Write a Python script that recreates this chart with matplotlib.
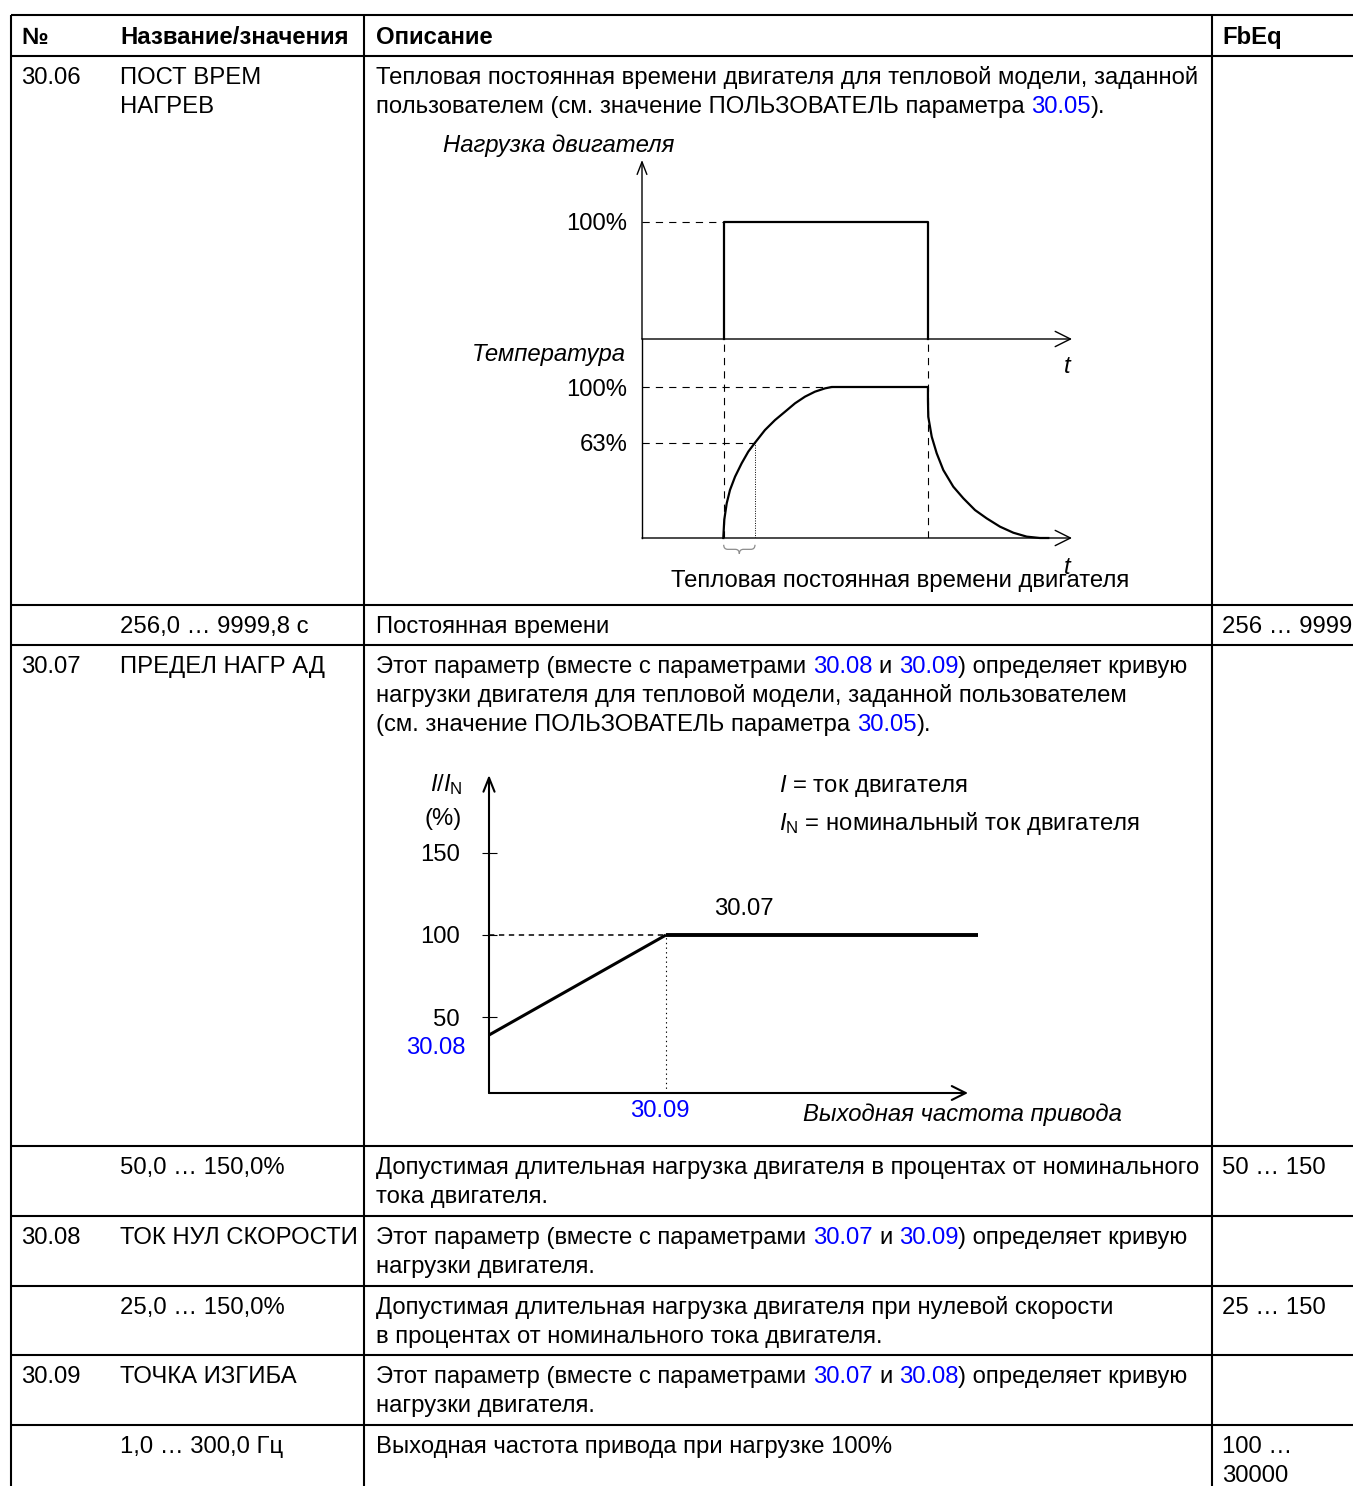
import re
import matplotlib
matplotlib.use("Agg")
import matplotlib.pyplot as plt
from matplotlib.path import Path
from matplotlib.patches import PathPatch

plt.rcParams['font.family'] = ['Liberation Sans', 'DejaVu Sans']
plt.rcParams['mathtext.fontset'] = 'custom'
plt.rcParams['mathtext.rm'] = 'Liberation Sans'
plt.rcParams['mathtext.it'] = 'Liberation Sans:italic'

W, H = 1353, 1486
FS = 17.2
BLUE = '#0000ff'

# ---- table content ----
headers = ["№", "Название/значения", "Описание", "FbEq"]
codes = ["30.06", "", "30.07", "", "30.08", "", "30.09", ""]
names = [["ПОСТ ВРЕМ", "НАГРЕВ"], ["256,0 … 9999,8 с"], ["ПРЕДЕЛ НАГР АД"],
         ["50,0 … 150,0%"], ["ТОК НУЛ СКОРОСТИ"], ["25,0 … 150,0%"],
         ["ТОЧКА ИЗГИБА"], ["1,0 … 300,0 Гц"]]
descriptions = [
    ["Тепловая постоянная времени двигателя для тепловой модели, заданной",
     "пользователем (см. значение ПОЛЬЗОВАТЕЛЬ параметра {30.05})."],
    ["Постоянная времени"],
    ["Этот параметр (вместе с параметрами {30.08} и {30.09}) определяет кривую",
     "нагрузки двигателя для тепловой модели, заданной пользователем",
     "(см. значение ПОЛЬЗОВАТЕЛЬ параметра {30.05})."],
    ["Допустимая длительная нагрузка двигателя в процентах от номинального",
     "тока двигателя."],
    ["Этот параметр (вместе с параметрами {30.07} и {30.09}) определяет кривую",
     "нагрузки двигателя."],
    ["Допустимая длительная нагрузка двигателя при нулевой скорости",
     "в процентах от номинального тока двигателя."],
    ["Этот параметр (вместе с параметрами {30.07} и {30.08}) определяет кривую",
     "нагрузки двигателя."],
    ["Выходная частота привода при нагрузке 100%"],
]
fbeq = [[], ["256 … 9999"], [], ["50 … 150"], [], ["25 … 150"], [], ["100 …", "30000"]]

# ---- diagram 1: load step and motor temperature (time in arbitrary units) ----
load_t = [1.0, 1.0, 3.5, 3.5]
load_pct = [0, 100, 100, 0]
temp_t = [0.995, 1.007, 1.037, 1.077, 1.139, 1.220, 1.301, 1.383, 1.505, 1.628, 1.750,
          1.873, 1.995, 2.117, 2.240, 2.322, 3.500,
          3.500, 3.504, 3.546, 3.607, 3.688, 3.810, 3.933, 4.076, 4.219, 4.382, 4.545,
          4.709, 4.871, 4.973]
temp_pct = [0, 12.1, 23.0, 31.8, 40.6, 49.5, 57.2, 63.1, 71.5, 78.1, 83.6,
            89.2, 93.6, 96.9, 99.1, 100, 100,
            91.4, 80.3, 67.1, 56.1, 45.0, 34.0, 26.3, 18.5, 13.0, 7.5, 3.5,
            0.9, 0, 0]
tau_t = 1.383         # time where temperature reaches 63 %
temp_full_t = 2.322   # time where temperature reaches 100 %

# ---- diagram 2: load curve ----
curve_f = [0, 1.0, 2.76]        # output frequency (knee = 30.09)
curve_i = [39, 100, 100]        # I/IN %  (30.08 at zero speed, 30.07 limit)
current_ticks = [50, 100, 150]

fig = plt.figure(figsize=(W / 100, H / 100), dpi=100)
ax = fig.add_axes([0, 0, 1, 1])
ax.set_xlim(0, W)
ax.set_ylim(H, 0)
ax.axis('off')
renderer = fig.canvas.get_renderer()


def text_w(s, **kw):
    t = ax.text(0, 0, s, fontsize=FS, **kw)
    w = t.get_window_extent(renderer).width
    t.remove()
    return w


SPACE = text_w("a a") - text_w("aa")


def draw_rich(x, y, line, **kw):
    for piece in re.split(r'(\{[^}]*\})', line):
        if not piece:
            continue
        color = 'black'
        if piece.startswith('{'):
            piece = piece[1:-1]
            color = BLUE
        lead = len(piece) - len(piece.lstrip(' '))
        trail = len(piece) - len(piece.rstrip(' '))
        core = piece.strip(' ')
        x += lead * SPACE
        if core:
            ax.text(x, y, core, fontsize=FS, color=color, va='baseline', ha='left', **kw)
            x += text_w(core, **kw)
        x += trail * SPACE


# ---- table grid ----
row_tops = [56, 605, 645, 1146, 1216, 1286, 1355, 1425]
col_x = [11, 364, 1212]
ax.hlines([15] + row_tops, col_x[0], W, color='black', lw=1.5)
ax.vlines(col_x, 15, H, color='black', lw=1.5)

for x, h in zip([21, 120, 376, 1222], headers):
    ax.text(x, 44, h, fontsize=FS, fontweight='bold', va='baseline')

LS = 29
for i, top in enumerate(row_tops):
    base = top + 28
    if codes[i]:
        ax.text(21, base, codes[i], fontsize=FS, va='baseline')
    for k, s in enumerate(names[i]):
        ax.text(120, base + LS * k, s, fontsize=FS, va='baseline')
    for k, s in enumerate(descriptions[i]):
        draw_rich(376, base + LS * k, s)
    for k, s in enumerate(fbeq[i]):
        ax.text(1222, base + LS * k, s, fontsize=FS, va='baseline')


def px_axes(x0, x1, y_top, y_bot, xlim, ylim):
    a = fig.add_axes([x0 / W, 1 - y_bot / H, (x1 - x0) / W, (y_bot - y_top) / H])
    a.set_xlim(*xlim)
    a.set_ylim(*ylim)
    a.patch.set_alpha(0)
    for s in a.spines.values():
        s.set_visible(False)
    a.set_xticks([])
    return a


def arrow(a, start, end, lw, coords='data', hl=10, hw=5):
    a.annotate('', xy=end, xytext=start, xycoords=coords, annotation_clip=False,
               arrowprops=dict(arrowstyle=f'->,head_length={hl},head_width={hw}',
                               mutation_scale=1, lw=lw, color='black',
                               shrinkA=0, shrinkB=0))


# ---- diagram 1 ----
T_PX = 81.7
t_end = (1072 - 642) / T_PX
load_ax = px_axes(642, 1072, 160, 339, (0, t_end), (0, (339 - 160) / 1.17))
temp_ax = px_axes(642, 1072, 339, 538, (0, t_end), (0, (538 - 339) / 1.51))
temp_top = (538 - 339) / 1.51
DASH = (0, (6.5, 5.5))

arrow(load_ax, (0, 0), (t_end, 0), 1.0, hl=11, hw=5.5)
arrow(load_ax, (0, 0), (0, (339 - 160) / 1.17), 1.0, hl=9, hw=3.5)
arrow(temp_ax, (0, 0), (t_end, 0), 1.0, hl=11, hw=5.5)
temp_ax.plot([0, 0], [0, temp_top], color='black', lw=1.0, clip_on=False)

load_ax.plot(load_t, load_pct, color='black', lw=1.6, clip_on=False)
load_ax.plot([0, load_t[0]], [100, 100], color='black', lw=0.8, ls=DASH)
load_ax.set_yticks([100], ['100%'])
load_ax.tick_params(axis='y', length=0, pad=10.5, labelsize=FS)

temp_ax.plot(temp_t, temp_pct, color='black', lw=1.6, clip_on=False,
             solid_joinstyle='round')
temp_ax.plot([0, temp_full_t], [100, 100], color='black', lw=0.8, ls=DASH)
temp_ax.plot([0, tau_t], [63, 63], color='black', lw=0.8, ls=DASH)
for tt in (load_t[0], load_t[2]):
    temp_ax.plot([tt, tt], [0, temp_top], color='black', lw=0.8, ls=DASH)
temp_ax.plot([tau_t, tau_t], [0, 63], color='black', lw=0.7, ls=(0, (1, 1.5)))
temp_ax.set_yticks([63, 100], ['63%', '100%'])
temp_ax.tick_params(axis='y', length=0, pad=10.5, labelsize=FS)

# brace marking the thermal time constant
x0, x1 = load_t[0], tau_t
xm = (x0 + x1) / 2
yt, ym, yb = -4.5, -7.5, -10.5
r = 0.05
verts = [(x0, yt), (x0, ym), (x0 + r, ym), (xm - r, ym), (xm, ym), (xm, yb),
         (xm, ym), (xm + r, ym), (x1 - r, ym), (x1, ym), (x1, yt)]
codes_p = [Path.MOVETO, Path.CURVE3, Path.CURVE3, Path.LINETO, Path.CURVE3, Path.CURVE3,
           Path.CURVE3, Path.CURVE3, Path.LINETO, Path.CURVE3, Path.CURVE3]
temp_ax.add_patch(PathPatch(Path(verts, codes_p), fill=False, ec='#8c8c8c', lw=0.9,
                            clip_on=False))

ax.text(443, 152, "Нагрузка двигателя", fontsize=FS, style='italic', va='baseline')
ax.text(626, 361, "Температура", fontsize=FS, style='italic', va='baseline', ha='right')
ax.text(1064, 373, "t", fontsize=FS, style='italic', va='baseline')
ax.text(671, 587, "Тепловая постоянная времени двигателя", fontsize=FS, va='baseline')
ax.text(1064, 574, "t", fontsize=FS, style='italic', va='baseline')

# ---- diagram 2 ----
F_PX = 177
I_PX = 1.64
d2 = px_axes(489, 968, 775, 1093, (0, (968 - 489) / F_PX),
             (50 - (1093 - 1017) / I_PX, 50 + (1017 - 775) / I_PX))
arrow(d2, (0, 0), (0, 1), 1.5, coords='axes fraction', hl=10, hw=4)
arrow(d2, (0, 0), (1, 0), 1.5, coords='axes fraction', hl=10, hw=5)
d2.set_yticks(current_ticks)
d2.tick_params(axis='y', direction='inout', length=10.8, width=0.8, pad=15.5, labelsize=FS)
d2.plot(curve_f[:2], curve_i[:2], color='black', lw=2.2, solid_capstyle='butt')
d2.plot(curve_f[1:], curve_i[1:], color='black', lw=2.8, solid_capstyle='butt', clip_on=False)
d2.plot([0, curve_f[1]], [100, 100], color='black', lw=1.1, ls=(0, (3.5, 3.0)))
d2.plot([curve_f[1], curve_f[1]], [d2.get_ylim()[0], 100], color='black', lw=0.8,
        ls=(0, (1.2, 3)))

ax.text(430, 791, r"$\mathit{I/I}_{\mathrm{N}}$", fontsize=FS, va='baseline')
ax.text(425, 825, "(%)", fontsize=FS, va='baseline')
ax.text(779, 792, r"$\mathit{I}$ = ток двигателя", fontsize=FS, va='baseline')
ax.text(779, 830, r"$\mathit{I}_{\mathrm{N}}$ = номинальный ток двигателя", fontsize=FS,
        va='baseline')
ax.text(714, 915, "30.07", fontsize=FS, va='baseline')
ax.text(466, 1054, "30.08", fontsize=FS, va='baseline', ha='right', color=BLUE)
ax.text(630, 1117, "30.09", fontsize=FS, va='baseline', color=BLUE)
ax.text(803, 1121, "Выходная частота привода", fontsize=FS, style='italic', va='baseline')

fig.savefig("out.png", dpi=100)
